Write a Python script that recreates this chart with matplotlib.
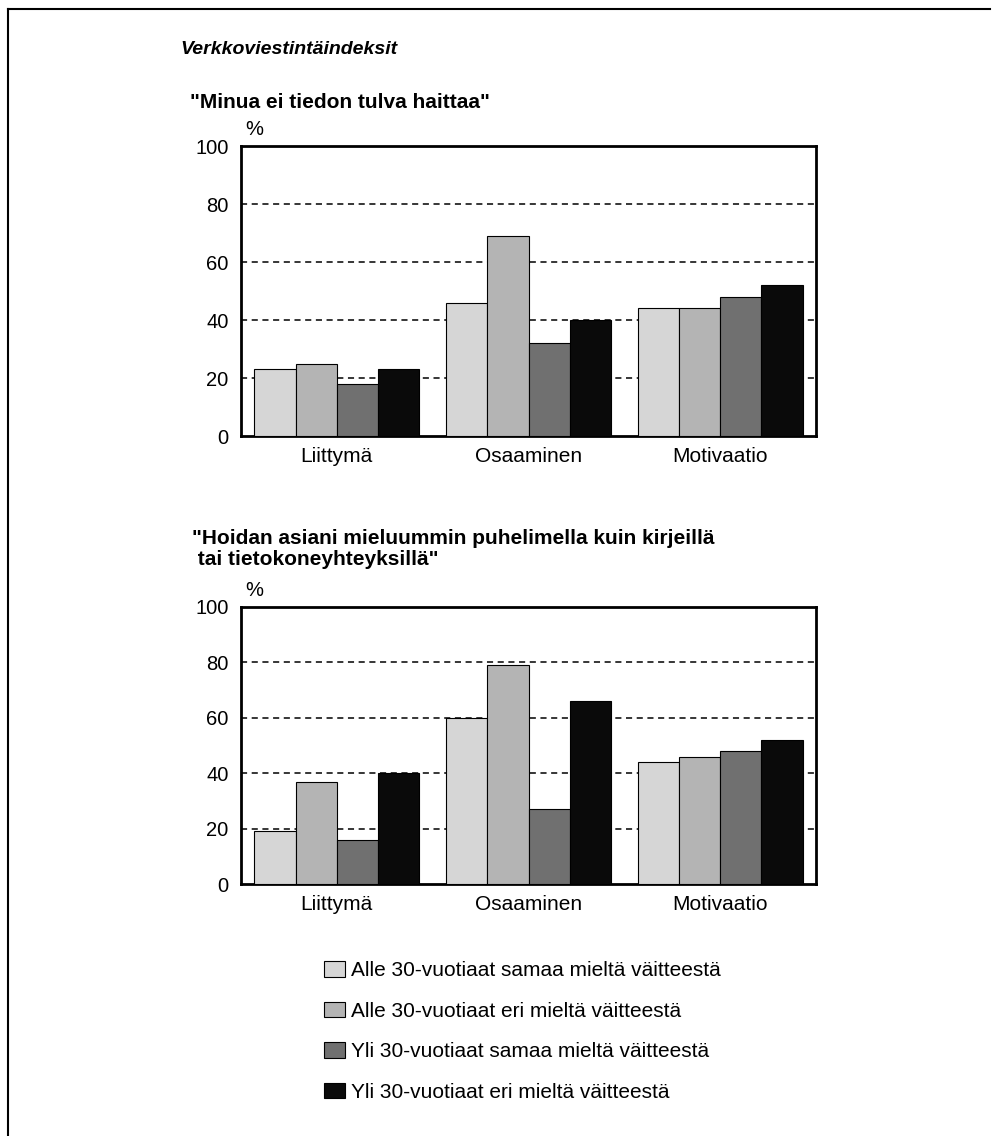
import numpy as np
import matplotlib
matplotlib.use('Agg')
import matplotlib.pyplot as plt
from matplotlib.lines import Line2D

plt.rcParams['font.family'] = ['Liberation Sans', 'DejaVu Sans']

# data
categories = ['Liittymä', 'Osaaminen', 'Motivaatio']
series = ['Alle 30-vuotiaat samaa mieltä väitteestä',
          'Alle 30-vuotiaat eri mieltä väitteestä',
          'Yli 30-vuotiaat samaa mieltä väitteestä',
          'Yli 30-vuotiaat eri mieltä väitteestä']
tulva = [[23, 46, 44],
         [25, 69, 44],
         [18, 32, 48],
         [23, 40, 52]]
puhelin = [[19, 60, 44],
           [37, 79, 46],
           [16, 27, 48],
           [40, 66, 52]]
yticks = [0, 20, 40, 60, 80, 100]

colors = ['#d6d6d6', '#b4b4b4', '#707070', '#0a0a0a']

fig = plt.figure(figsize=(9.93, 11.36), dpi=100)

W, H = 993, 1136
def box(l, t, r, b):
    return [l / W, 1 - b / H, (r - l) / W, (b - t) / H]

ax1 = fig.add_axes(box(241, 146, 816, 436))
ax2 = fig.add_axes(box(241, 607, 816, 884))

x = np.arange(len(categories))
w = 0.215

def draw(ax, data):
    handles = []
    for i, vals in enumerate(data):
        b = ax.bar(x + (i - 1.5) * w, vals, w, color=colors[i],
                   edgecolor='black', linewidth=0.8, zorder=3, label=series[i])
        handles.append(b)
    ax.set_xlim(-0.5, 2.5)
    ax.set_ylim(0, 100)
    ax.set_yticks(yticks)
    ax.set_xticks(x)
    ax.set_xticklabels(categories, fontsize=15)
    ax.tick_params(axis='y', length=0, pad=9, labelsize=14.5)
    ax.tick_params(axis='x', length=0, pad=8)
    for y in yticks[1:-1]:
        ax.axhline(y, color='black', linestyle=(0, (4, 3)), linewidth=1.1, zorder=1)
    for s in ax.spines.values():
        s.set_linewidth(2)
    ax.text(0.008, 1.025, '%', transform=ax.transAxes, fontsize=14.5,
            ha='left', va='bottom')
    return handles

h = draw(ax1, tulva)
draw(ax2, puhelin)

fig.text(180 / W, 1 - 50 / H, 'Verkkoviestintäindeksit', fontsize=14,
         fontweight='bold', fontstyle='italic', va='center')
fig.text(190 / W, 1 - 103 / H, '"Minua ei tiedon tulva haittaa"', fontsize=15,
         fontweight='bold', va='center')
fig.text(192 / W, 1 - 549 / H,
         '"Hoidan asiani mieluummin puhelimella kuin kirjeillä\n tai tietokoneyhteyksillä"',
         fontsize=15, fontweight='bold', va='center', linespacing=1.1)

fig.legend(handles=h, labels=series, loc='upper left',
           bbox_to_anchor=(324 / W, 1 - 961 / H), frameon=False, fontsize=15,
           borderpad=0, borderaxespad=0, handlelength=1.0, handleheight=0.78,
           handletextpad=0.3, labelspacing=1.03)

# frame lines of the page
fig.add_artist(Line2D([8 / W, 990 / W], [1 - 9 / H, 1 - 9 / H], color='black', linewidth=1.5))
fig.add_artist(Line2D([8 / W, 8 / W], [1 - 9 / H, 0], color='black', linewidth=1.5))

fig.savefig('out.png', dpi=100)
